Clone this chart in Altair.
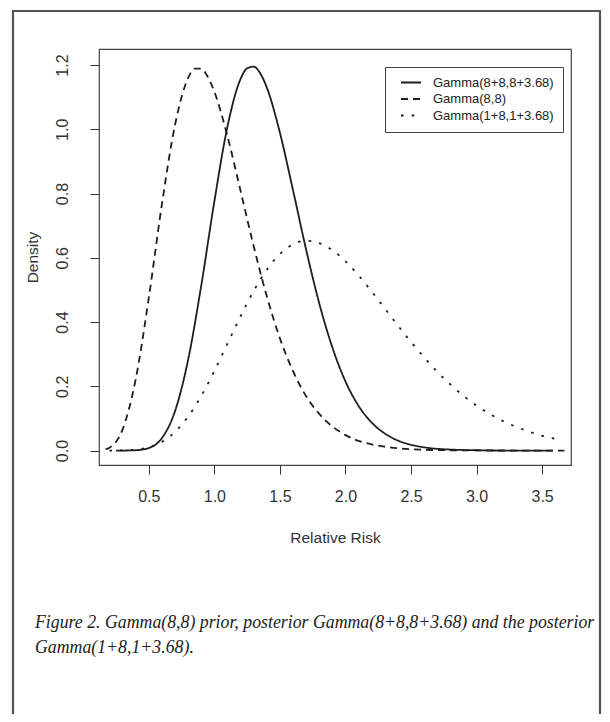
import altair as alt
import pandas as pd

# Series names (legend order)
names = ["Gamma(8+8,8+3.68)", "Gamma(8,8)", "Gamma(1+8,1+3.68)"]

# Solid curve: posterior Gamma(8+8, 8+3.68)
x_solid = [0.25, 0.3, 0.4, 0.5, 0.6, 0.7, 0.8, 0.9, 1.0, 1.1, 1.2, 1.25, 1.3, 1.35, 1.4,
           1.5, 1.6, 1.7, 1.8, 1.9, 2.0, 2.1, 2.2, 2.3, 2.4, 2.5, 2.6, 2.8, 3.0, 3.2, 3.58]
y_solid = [0.000, 0.000, 0.001, 0.008, 0.039, 0.123, 0.283, 0.514, 0.776, 1.009, 1.157, 1.190,
           1.195, 1.174, 1.130, 0.989, 0.810, 0.625, 0.458, 0.321, 0.215, 0.139, 0.087, 0.053,
           0.031, 0.018, 0.010, 0.003, 0.001, 0.000, 0.000]

# Dashed curve: prior Gamma(8, 8)
x_dashed = [0.17, 0.2, 0.3, 0.4, 0.5, 0.6, 0.7, 0.8, 0.85, 0.9, 0.95, 1.0, 1.1, 1.2, 1.3, 1.4,
            1.5, 1.6, 1.7, 1.8, 1.9, 2.0, 2.1, 2.2, 2.3, 2.4, 2.5, 2.6, 2.8, 3.0, 3.2, 3.4, 3.67]
y_dashed = [0.004, 0.009, 0.066, 0.222, 0.476, 0.767, 1.014, 1.160, 1.189, 1.189, 1.163, 1.117,
            0.978, 0.808, 0.636, 0.480, 0.349, 0.247, 0.169, 0.114, 0.075, 0.048, 0.030, 0.019,
            0.012, 0.007, 0.004, 0.0025, 0.0008, 0.0003, 0.0001, 0.0, 0.0]

# Dotted curve: posterior Gamma(1+8, 1+3.68)
x_dotted = [0.2, 0.3, 0.4, 0.5, 0.6, 0.7, 0.8, 0.9, 1.0, 1.1, 1.2, 1.3, 1.4, 1.5, 1.6, 1.7, 1.8,
            1.9, 2.0, 2.1, 2.2, 2.3, 2.4, 2.5, 2.6, 2.7, 2.8, 2.9, 3.0, 3.1, 3.2, 3.3, 3.4, 3.5, 3.63]
y_dotted = [0.000, 0.0004, 0.003, 0.010, 0.027, 0.058, 0.106, 0.170, 0.248, 0.333, 0.418, 0.497,
            0.563, 0.612, 0.642, 0.653, 0.646, 0.624, 0.589, 0.545, 0.495, 0.442, 0.389, 0.338,
            0.290, 0.245, 0.206, 0.170, 0.140, 0.114, 0.092, 0.074, 0.059, 0.046, 0.034]

x_ticks = [0.5, 1.0, 1.5, 2.0, 2.5, 3.0, 3.5]
y_ticks = [0.0, 0.2, 0.4, 0.6, 0.8, 1.0, 1.2]

caption = ["Figure 2. Gamma(8,8) prior, posterior Gamma(8+8,8+3.68) and the posterior",
           "Gamma(1+8,1+3.68)."]

rows = []
for name, xs, ys in [(names[0], x_solid, y_solid), (names[1], x_dashed, y_dashed),
                     (names[2], x_dotted, y_dotted)]:
    for i, (xv, yv) in enumerate(zip(xs, ys)):
        rows.append({"series": name, "x": xv, "y": yv, "order": i})
df = pd.DataFrame(rows)

W, H = 472, 416
PAD_L, PAD_T = 91, 41

lines = alt.Chart(df).mark_line(interpolate="monotone", color="#1e1e1e",
                                strokeCap="butt").encode(
    x=alt.X("x:Q", scale=alt.Scale(domain=[0.12, 3.72], nice=False, zero=False),
            axis=alt.Axis(values=x_ticks, format=".1f", title="Relative Risk",
                          labelBaseline="alphabetic", labelPadding=27,
                          titleX=W / 2, titleY=77, titleBaseline="alphabetic",
                          titleAlign="center")),
    y=alt.Y("y:Q", scale=alt.Scale(domain=[-0.045, 1.25], nice=False, zero=False),
            axis=alt.Axis(values=y_ticks, format=".1f", title="Density",
                          labelAngle=270, labelAlign="center", labelBaseline="alphabetic",
                          labelPadding=23,
                          titleX=-62, titleY=H / 2, titleAngle=270,
                          titleBaseline="alphabetic", titleAlign="center")),
    strokeDash=alt.StrokeDash("series:N",
                              scale=alt.Scale(domain=names,
                                              range=[[1, 0], [7, 5], [2.6, 8.1]]),
                              legend=alt.Legend(title=None, orient="none",
                                                legendX=286, legendY=18,
                                                padding=9, strokeColor="#444",
                                                symbolType="M0.2,0H8.2", symbolSize=25,
                                                symbolStrokeWidth=1.8,
                                                symbolStrokeColor="#1e1e1e",
                                                labelOffset=26, rowPadding=2.5,
                                                labelFontSize=13, labelFont="Liberation Sans",
                                                labelColor="#222")),
    strokeWidth=alt.StrokeWidth("series:N",
                                scale=alt.Scale(domain=names, range=[1.8, 1.8, 2.9]),
                                legend=None),
    order="order:Q",
)

frame = alt.Chart(pd.DataFrame({"a": [0]})).mark_rect(
    fill=None, stroke="#555", strokeWidth=2.2
).encode(x=alt.value(-86), x2=alt.value(501), y=alt.value(-38), y2=alt.value(720))

cap = alt.Chart(pd.DataFrame({"a": [0]})).mark_text(
    text=caption, align="left", baseline="alphabetic", lineHeight=25,
    font="Liberation Serif", fontStyle="italic", fontSize=17.8, color="#222"
).encode(x=alt.value(-64), y=alt.value(579))

chart = alt.layer(frame, lines, cap).properties(
    width=W, height=H,
    padding={"left": PAD_L, "top": PAD_T, "right": 594 - PAD_L - W, "bottom": 706 - PAD_T - H},
    autosize=alt.AutoSizeParams(type="none"),
    background="white",
).configure_view(stroke="#444", strokeWidth=1.2).configure_axis(
    grid=False, domain=False, tickSize=9, tickColor="#333", tickWidth=1,
    labelFont="Liberation Sans", labelFontSize=16, labelColor="#333",
    titleFont="Liberation Sans", titleFontSize=15.5, titleFontWeight="normal", titleColor="#333",
)

chart.save("out.html", embed_options={"renderer": "svg", "actions": False})
